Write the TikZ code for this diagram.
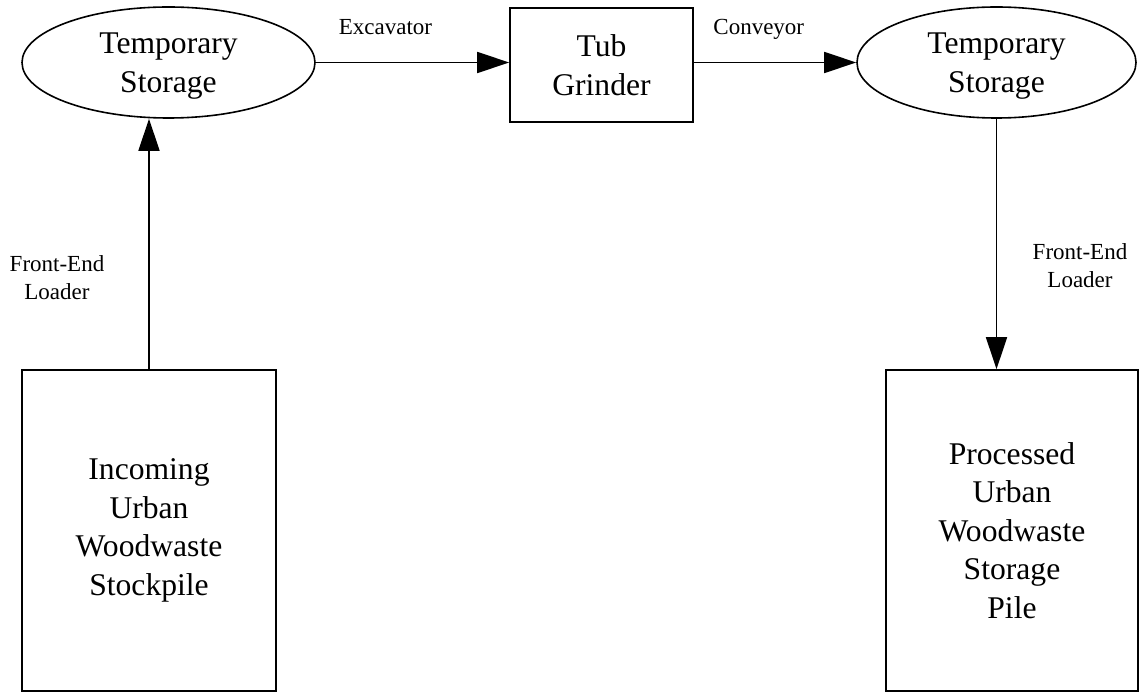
\documentclass[tikz,border=0pt]{standalone}
\usepackage{fontspec}
\setmainfont{Liberation Serif}
\usetikzlibrary{shapes.geometric,arrows.meta}
\tikzset{
  bigtext/.style={font=\fontsize{31.6}{38.5}\selectfont, align=center},
  lbl/.style={font=\fontsize{23}{28}\selectfont, align=center, inner sep=0pt},
  oval/.style={draw, ellipse, line width=1.6pt, inner sep=0pt, text depth=0pt, bigtext},
  boxnode/.style={draw, rectangle, line width=1.6pt, inner sep=0pt, bigtext},
  arr/.style={line width=1.6pt, -{Triangle[length=32pt,width=21pt]}}
}
\begin{document}
\begin{tikzpicture}[x=1pt,y=-1pt]
\useasboundingbox (0,0) rectangle (1141,692);
\node[oval, minimum width=293pt, minimum height=111pt] (le) at (168.5,62.5) {Temporary\\Storage};
\node[boxnode, minimum width=183pt, minimum height=114pt] (tub) at (601.5,65) {Tub\\Grinder};
\node[oval, minimum width=279pt, minimum height=111pt] (re) at (996.5,62.5) {Temporary\\Storage};
\node[boxnode, minimum width=254pt, minimum height=321pt] (lb) at (149,530.5) {Incoming\\Urban\\Woodwaste\\Stockpile};
\node[boxnode, minimum width=252pt, minimum height=321pt] (rb) at (1012,530.5) {Processed\\Urban\\Woodwaste\\Storage\\Pile};

\draw[arr] (le.east) -- node[lbl, pos=0.36, anchor=base, yshift=28pt] (lexc) {Excavator} (le.east -| tub.west);
\draw[arr] (tub.east |- re.west) -- node[lbl, pos=0.40, anchor=base, yshift=28pt] (lcon) {Conveyor} (re.west);
\draw[arr] (lb.north) -- (lb.north |- le.south);
\draw[arr] (re.south) -- (re.south |- rb.north);

\node[lbl] (lfel) at (57,278) {Front-End\\Loader};
\node[lbl] (rfel) at (1080,266) {Front-End\\Loader};
\end{tikzpicture}
\end{document}
